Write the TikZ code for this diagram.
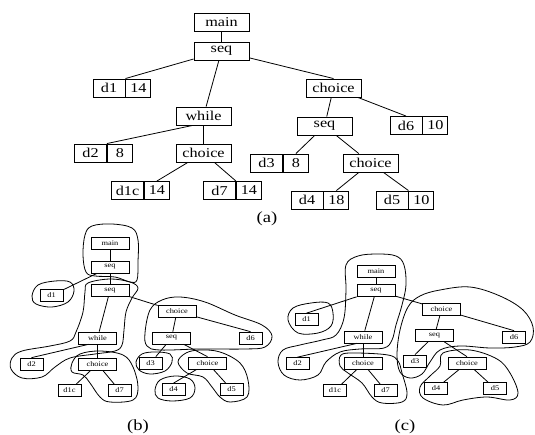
\documentclass[tikz,border=0pt]{standalone}
\usepackage{fontspec}
\setmainfont{Liberation Serif}[FakeStretch=1.2]
\usetikzlibrary{positioning}

\begin{document}
\begin{tikzpicture}[x=1pt, y=-1pt,
  op/.style={draw, line width=0.9pt, inner sep=0pt,
             minimum width=55, minimum height=18,
             font=\fontsize{13.5}{14}\selectfont},
  var/.style={op, minimum width=32},
  wt/.style={op, minimum width=25},
  sop/.style={draw, line width=0.7pt, inner sep=0pt,
              minimum width=38, minimum height=12,
              font=\fontsize{7}{8}\selectfont},
  svar/.style={sop, minimum width=23},
  link/.style={line width=0.8pt},
  blob/.style={line width=0.8pt, tension=0.6},
  figlabel/.style={font=\fontsize{15.5}{17}\selectfont}
]
  \useasboundingbox (0,0) rectangle (535,435);

  % (a)
  \node[op] (aMain)    at (221.5,22.5) {main};
  \node[op] (aSeq)     at (221.5,51)   {seq};
  \node[op] (aChoice)  at (333.5,88)   {choice};
  \node[op] (aWhile)   at (203.5,116)  {while};
  \node[op] (aSeqR)    at (324.5,126)  {seq};
  \node[op] (aChoiceL) at (203.5,153)  {choice};
  \node[op] (aChoiceR) at (370.5,163)  {choice};
  \node[var] (aD1)  at (109,88)     {d1};
  \node[wt, right=0pt of aD1]  (aD1w)  {14};
  \node[var] (aD6)  at (406,125.5)  {d6};
  \node[wt, right=0pt of aD6]  (aD6w)  {10};
  \node[var] (aD2)  at (90.5,153)   {d2};
  \node[wt, right=0pt of aD2]  (aD2w)  {8};
  \node[var] (aD3)  at (266.5,163)  {d3};
  \node[wt, right=0pt of aD3]  (aD3w)  {8};
  \node[var] (aD1c) at (127.5,190.5) {d1c};
  \node[wt, right=0pt of aD1c] (aD1cw) {14};
  \node[var] (aD7)  at (219.5,190.5) {d7};
  \node[wt, right=0pt of aD7]  (aD7w)  {14};
  \node[var] (aD4)  at (307,200)    {d4};
  \node[wt, right=0pt of aD4]  (aD4w)  {18};
  \node[var] (aD5)  at (392,200)    {d5};
  \node[wt, right=0pt of aD5]  (aD5w)  {10};
  \node[figlabel] (aLabel) at (267,219) {(a)};

  \draw[link] (aMain) -- (aSeq);
  \draw[link] (aSeq) -- (aD1.north east);
  \draw[link] (aSeq) -- (aWhile);
  \draw[link] (aSeq) -- (aChoice.north);
  \draw[link] (aChoice) -- (aSeqR);
  \draw[link] (aChoice) -- (aD6.north);
  \draw[link] ([xshift=-11pt]aWhile.south) -- (aD2.north east);
  \draw[link] (aWhile) -- (aChoiceL);
  \draw[link] (aSeqR) -- (aD3w.north);
  \draw[link] (aSeqR) -- (aChoiceR);
  \draw[link] (aChoiceL) -- (aD1cw.north);
  \draw[link] (aChoiceL) -- (aD7.north east);
  \draw[link] (aChoiceR) -- (aD4w.north);
  \draw[link] (aChoiceR) -- (aD5.north east);

  % (b)
  \node[sop] (bMain)    at (110,243)   {main};
  \node[sop] (bSeq)     at (110,267)   {seq};
  \node[sop] (bSeqM)    at (110,290.5) {seq};
  \node[sop] (bChoice)  at (177,311.5) {choice};
  \node[sop] (bWhile)   at (97.5,338)  {while};
  \node[sop] (bSeqR)    at (171.5,338) {seq};
  \node[sop] (bChoiceL) at (97.5,364)  {choice};
  \node[sop] (bChoiceR) at (207.5,363) {choice};
  \node[svar] (bD1)  at (51.5,295.5)  {d1};
  \node[svar] (bD6)  at (250.5,338)   {d6};
  \node[svar] (bD2)  at (31.5,364)    {d2};
  \node[svar] (bD3)  at (150.5,363)   {d3};
  \node[svar] (bD1c) at (69.5,390.5)  {d1c};
  \node[svar] (bD7)  at (119.5,390.5) {d7};
  \node[svar] (bD4)  at (173.5,389.5) {d4};
  \node[svar] (bD5)  at (231.5,389.5) {d5};
  \node[figlabel] (bLabel) at (138,427) {(b)};

  \draw[link] (bMain) -- (bSeq);
  \draw[link] (bSeq) -- (bD1);
  \draw[link] (bSeq) -- (bSeqM);
  \draw[link] (bSeqM) -- (bWhile);
  \draw[link] (bSeqM) -- (bChoice);
  \draw[link] (bChoice) -- (bSeqR);
  \draw[link] (bChoice) -- (bD6.north);
  \draw[link] ([xshift=-9pt]bWhile.south) -- (bD2.north);
  \draw[link] (bWhile) -- (bChoiceL);
  \draw[link] (bSeqR) -- (bD3);
  \draw[link] (bSeqR) -- (bChoiceR.north);
  \draw[link] (bChoiceR) -- (bD4.north);
  \draw[link] (bChoiceR) -- (bD5);
  \draw[link] (bChoiceL) -- (bD1c);
  \draw[link] (bChoiceL) -- (bD7);

  \draw[blob] plot[smooth cycle] coordinates {(85,235) (92,226) (112,224)
    (132,228) (138,240) (138,262) (137,280) (130,282) (115,277) (95,276)
    (86,272) (83,255)};
  \draw[blob] plot[smooth cycle] coordinates {(32,296) (38,285) (55,281)
    (70,282) (74,291) (68,302) (52,307) (36,304)};
  \draw[blob] plot[smooth cycle] coordinates {(88,283) (110,279) (130,282)
    (138,288) (132,298) (126,312) (124,330) (122,345) (115,351) (95,354)
    (70,358) (55,367) (42,377) (22,378) (11,369) (12,358) (22,351) (50,346)
    (70,341) (76,332) (83,312) (85,292)};
  \draw[blob] plot[smooth cycle] coordinates {(72,363) (80,354) (100,351)
    (123,355) (133,367) (138,387) (133,400) (110,402) (100,397) (90,383)
    (83,375) (72,372)};
  \draw[blob] plot[smooth cycle] coordinates {(145,333) (150,310) (162,300)
    (180,297) (205,302) (235,315) (262,325) (272,336) (265,347) (245,349)
    (200,349) (160,350) (147,346)};
  \draw[blob] plot[smooth cycle] coordinates {(136,362) (142,354) (155,352)
    (170,354) (172,362) (165,371) (150,374) (139,370)};
  \draw[blob] plot[smooth cycle] coordinates {(178,362) (186,353) (200,350)
    (220,352) (240,363) (248,380) (247,397) (230,402) (220,397) (212,387)
    (203,377) (187,373)};
  \draw[blob] plot[smooth cycle] coordinates {(155,390) (160,380) (175,376)
    (190,379) (195,388) (190,398) (172,401) (158,398)};

  % (c)
  \node[sop] (cMain)    at (376,271)   {main};
  \node[sop] (cSeq)     at (376,290.5) {seq};
  \node[sop] (cChoice)  at (441.5,309.5) {choice};
  \node[sop] (cWhile)   at (363,337)   {while};
  \node[sop] (cSeqR)    at (434.5,335.5) {seq};
  \node[sop] (cChoiceL) at (363,363.5) {choice};
  \node[sop] (cChoiceR) at (467,363)   {choice};
  \node[svar] (cD1)  at (306.5,319.5) {d1};
  \node[svar] (cD6)  at (514,337)     {d6};
  \node[svar] (cD2)  at (297.5,363.5) {d2};
  \node[svar] (cD3)  at (415,361)     {d3};
  \node[svar] (cD1c) at (335,390.5)   {d1c};
  \node[svar] (cD7)  at (385.5,390.5) {d7};
  \node[svar] (cD4)  at (436,388.5)   {d4};
  \node[svar] (cD5)  at (495,388.5)   {d5};
  \node[figlabel] (cLabel) at (405,427) {(c)};

  \draw[link] (cMain) -- (cSeq);
  \draw[link] (cSeq) -- (cD1.north);
  \draw[link] (cSeq) -- (cWhile);
  \draw[link] (cSeq) -- (cChoice);
  \draw[link] (cChoice) -- (cSeqR);
  \draw[link] (cChoice) -- (cD6.north);
  \draw[link] ([xshift=-6pt]cWhile.south) -- (cD2.north);
  \draw[link] (cWhile) -- (cChoiceL);
  \draw[link] (cSeqR) -- (cD3.north);
  \draw[link] (cSeqR) -- (cChoiceR.north);
  \draw[link] (cChoiceR) -- (cD4);
  \draw[link] (cChoiceR) -- (cD5);
  \draw[link] (cChoiceL) -- (cD1c);
  \draw[link] (cChoiceL) -- (cD7);

  \draw[blob] plot[smooth cycle] coordinates {(346,265) (358,256) (378,254)
    (396,256) (404,265) (406,285) (402,305) (396,325) (392,340) (384,348)
    (360,349) (340,352) (326,362) (318,375) (300,380) (284,375) (278,362)
    (283,350) (300,345) (322,340) (336,335) (344,318) (346,290)};
  \draw[blob] plot[smooth cycle] coordinates {(288,320) (293,308) (311,303)
    (328,303) (333,313) (331,326) (318,333) (298,333)};
  \draw[blob] plot[smooth cycle] coordinates {(341,355) (355,353) (388,355)
    (398,361) (402,373) (407,393) (402,402) (382,403) (372,397) (362,383)
    (348,373) (340,366)};
  \draw[blob] plot[smooth cycle] coordinates {(400,330) (408,307) (420,296)
    (440,290) (470,287) (500,296) (523,310) (533,327) (530,342) (515,347)
    (490,348) (460,346) (440,350) (430,362) (422,374) (410,378) (400,372)
    (397,355)};
  \draw[blob] plot[smooth cycle] coordinates {(443,353) (470,350) (497,359)
    (510,373) (518,393) (510,400) (487,397) (463,400) (443,405) (423,398)
    (420,387) (430,376) (440,366)};
\end{tikzpicture}
\end{document}
